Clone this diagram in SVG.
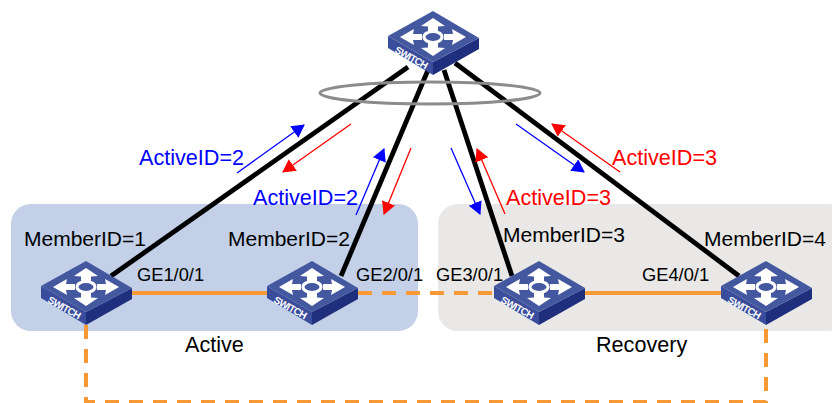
<svg xmlns="http://www.w3.org/2000/svg" xmlns:xlink="http://www.w3.org/1999/xlink" width="832" height="403" viewBox="0 0 832 403">
<style>
text{font-family:"Liberation Sans",Arial,sans-serif;fill:#000}
.l{font-size:21px}
.a{font-size:21.6px}
.p{font-size:18.3px}
.b{fill:#00f}
.r{fill:#f00}
.sw{font-size:10px;font-weight:bold;fill:#fff}
.trunk{stroke:#000;stroke-width:4.8;fill:none}
.or{stroke:#f79a36;stroke-width:4;fill:none}
.da{stroke-dasharray:14 10}
.ab{stroke:#00f;stroke-width:1.3;fill:none;marker-end:url(#mb)}
.ar{stroke:#f00;stroke-width:1.3;fill:none;marker-end:url(#mr)}
</style>
<defs>
<marker id="mb" markerUnits="userSpaceOnUse" markerWidth="16" markerHeight="16" refX="12" refY="7" orient="auto"><path d="M0 0L13 7L0 14Z" fill="#00f"/></marker>
<marker id="mr" markerUnits="userSpaceOnUse" markerWidth="16" markerHeight="16" refX="12" refY="7" orient="auto"><path d="M0 0L13 7L0 14Z" fill="#f00"/></marker>
<g id="swi">
<path d="M0 25V37L45 64V51Z" fill="#3a4d9c"/>
<path d="M45 64V51L91 27V38Z" fill="#1f2f7d"/>
<path d="M0 25L45 0L91 27L45 51Z" fill="#44589f"/>
<path fill="#fff" d="M45 7L57 15L50 15.5V20H40V15.5L33 15ZM45 45L57 37L50 36.500V32H40V36.500L33 37ZM12 26L26 18L25 23H34V29H25L26 34ZM78 26L64 18L65 23H56V29H65L64 34Z"/>
<ellipse cx="45" cy="26" rx="9" ry="5.500" fill="#44589f" stroke="#fff" stroke-width="3"/>
</g>
</defs>
<g id="zones">
<rect x="11" y="204" width="407" height="127" rx="20" fill="#c3d0e8"/>
<rect x="438" y="204" width="410" height="127" rx="20" fill="#e9e8e6"/>
</g>
<g id="connectors">
<path class="trunk" d="M408 67L111 276"/>
<path class="trunk" d="M428 70L341 276"/>
<path class="trunk" d="M444 70L512 276"/>
<path class="trunk" d="M455 63L739 276"/>
<ellipse cx="430" cy="93" rx="110" ry="11" fill="none" stroke="#8c8c8c" stroke-width="3"/>
<path class="or" d="M131 293H267"/>
<path class="or da" d="M358 293H494"/>
<path class="or" d="M585 293H721"/>
<path class="or da" d="M86 325V402H766V325"/>
<path class="ab" d="M237 173L304 125"/>
<path class="ar" d="M351 124L283 172"/>
<path class="ab" d="M356 215L384 149"/>
<path class="ar" d="M411 148L384 214"/>
<path class="ab" d="M451 148L480 214"/>
<path class="ar" d="M505 214L477 149"/>
<path class="ab" d="M516 124L584 172"/>
<path class="ar" d="M620 172L552 124"/>
</g>
<g id="hub"><use xlink:href="#swi" href="#swi" x="388" y="11"/><text class="sw" transform="translate(394 52) rotate(29)" textLength="36">SWITCH</text></g>
<g id="member1"><use xlink:href="#swi" href="#swi" x="41" y="261"/><text class="sw" transform="translate(47 302) rotate(29)" textLength="36">SWITCH</text><text class="l" x="24" y="246">MemberID=1</text></g>
<g id="member2"><use xlink:href="#swi" href="#swi" x="267" y="261"/><text class="sw" transform="translate(273 302) rotate(29)" textLength="36">SWITCH</text><text class="l" x="228" y="246">MemberID=2</text></g>
<g id="member3"><use xlink:href="#swi" href="#swi" x="494" y="261"/><text class="sw" transform="translate(500 302) rotate(29)" textLength="36">SWITCH</text><text class="l" x="503" y="242">MemberID=3</text></g>
<g id="member4"><use xlink:href="#swi" href="#swi" x="721" y="261"/><text class="sw" transform="translate(727 302) rotate(29)" textLength="36">SWITCH</text><text class="l" x="704" y="246">MemberID=4</text></g>
<g id="labels">
<text class="p" x="137" y="281">GE1/0/1</text>
<text class="p" x="356" y="281">GE2/0/1</text>
<text class="p" x="436" y="281">GE3/0/1</text>
<text class="p" x="642" y="281">GE4/0/1</text>
<text class="a" x="185" y="352">Active</text>
<text class="a" x="596" y="352">Recovery</text>
<text class="a b" x="139" y="165">ActiveID=2</text>
<text class="a b" x="253" y="205">ActiveID=2</text>
<text class="a r" x="506" y="205">ActiveID=3</text>
<text class="a r" x="612" y="165">ActiveID=3</text>
</g>
</svg>
